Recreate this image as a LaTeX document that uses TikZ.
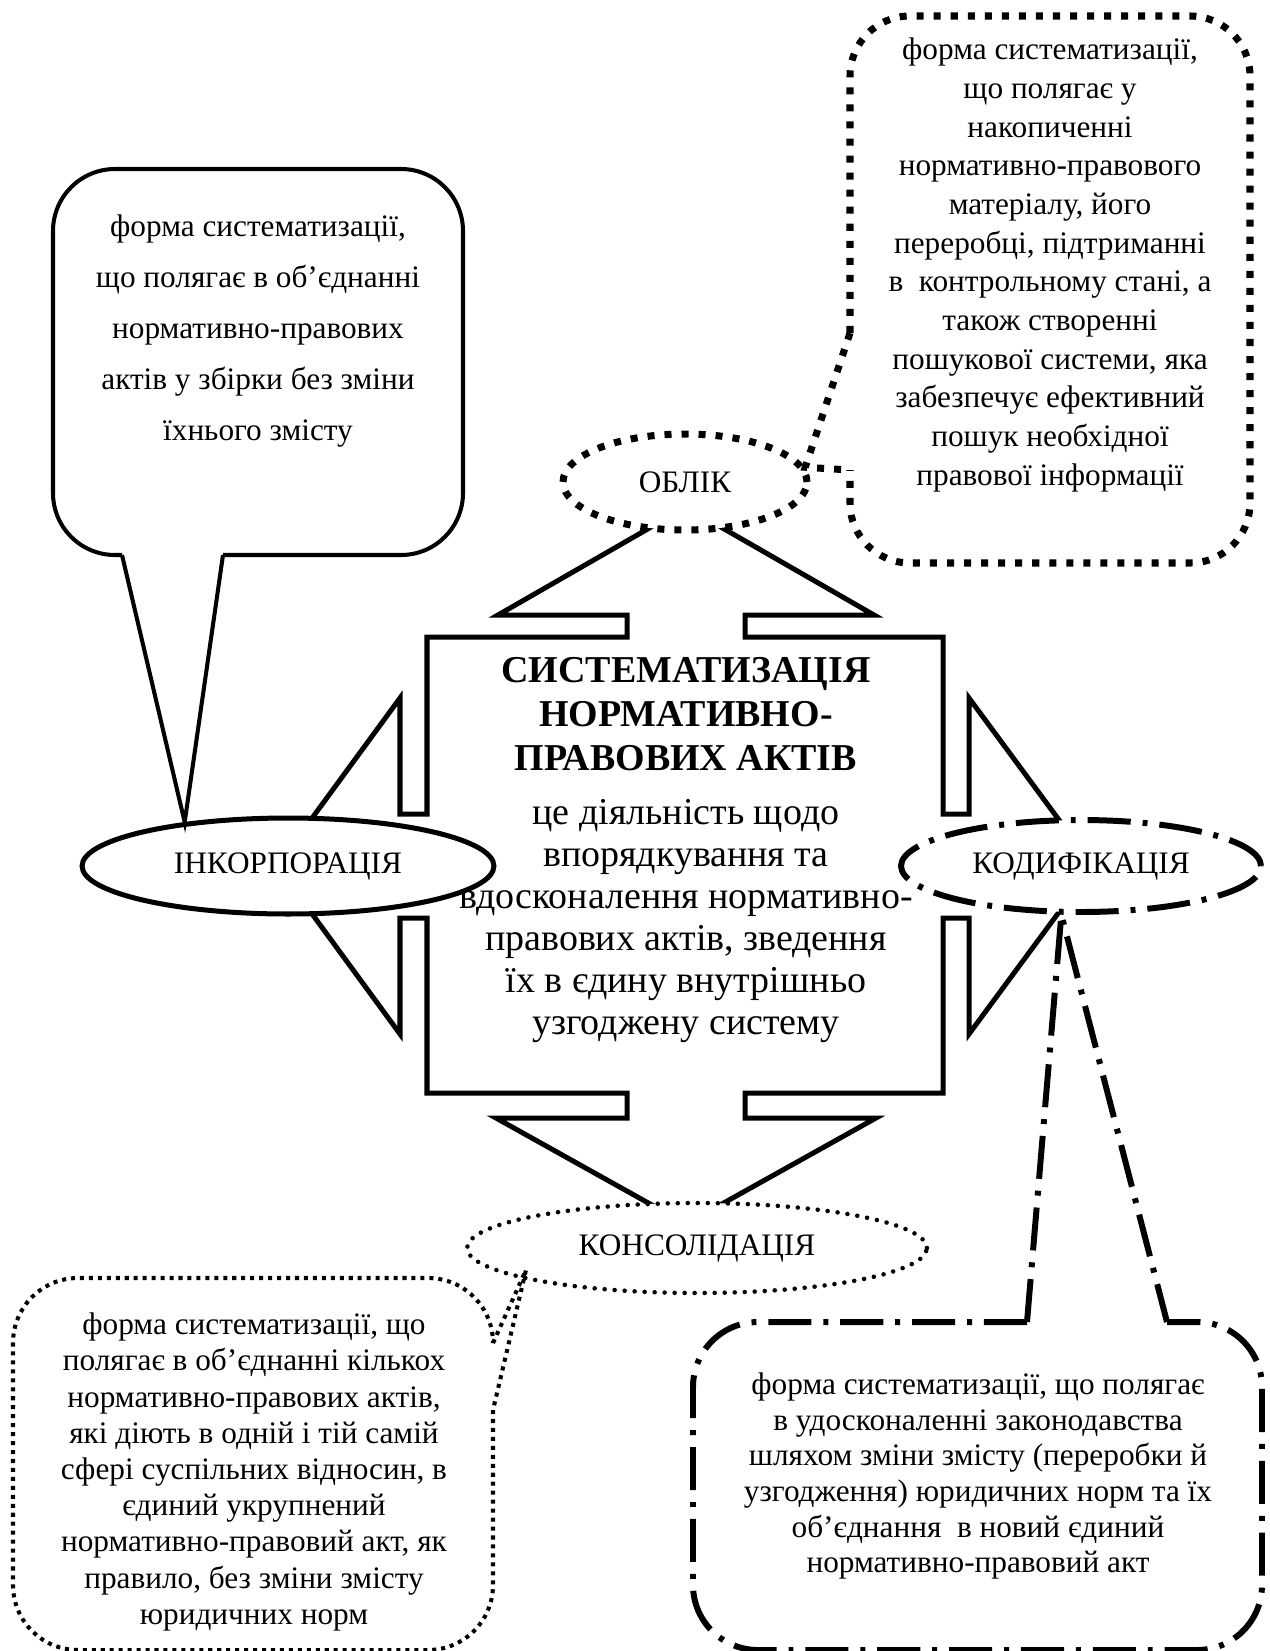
\documentclass[tikz,border=0pt]{standalone}
\usepackage{fontspec}
\setmainfont{Liberation Serif}
\usetikzlibrary{shapes.geometric}

\begin{document}
\begin{tikzpicture}[x=0.02cm,y=-0.02cm,line join=miter,
  txt/.style={align=center,font=\fontsize{17.8}{20.6}\selectfont},
  oval/.style={ellipse,draw,fill=white,inner sep=0pt,font=\fontsize{17.8}{20.6}\selectfont},
  arm/.style={draw,line width=2.85pt},
  outline/.style={line width=2.3pt},
  thickdots/.style={line width=4pt,dash pattern=on 4pt off 5.7pt},
  finedots/.style={line width=2.6pt,line cap=round,dash pattern=on 0pt off 5.7pt},
  boxdots/.style={line width=2.3pt,dash pattern=on 2.3pt off 2.8pt},
  dshdot/.style={line width=3.4pt,dash pattern=on 24.5pt off 6.8pt on 2.8pt off 6.8pt}]
\useasboundingbox (0,0) rectangle (1269,1651);
\draw[arm] (427,637)--(627,637)--(627,615)--(498,615)--(686,507)--(874,615)--(745,615)--(745,637)--(943,637)--(943,814)--(969,814)--(969,698)--(1093,866)--(969,1034)--(969,918)--(943,918)--(943,1093)--(745,1093)--(745,1118)--(876,1118)--(686,1224)--(496,1118)--(627,1118)--(627,1093)--(427,1093)--(427,918)--(400,918)--(400,1034)--(277,866)--(400,698)--(400,814)--(427,814)--cycle;
\node[oval,line width=2.85pt,minimum width=8.24cm,minimum height=1.92cm] (inc) at (288,866) {ІНКОРПОРАЦІЯ};
\node[oval,thickdots,minimum width=4.88cm,minimum height=1.92cm] (obl) at (685,482) {ОБЛІК};
\node[oval,dshdot,minimum width=7.2cm,minimum height=1.84cm] (kod) at (1081,866) {КОДИФІКАЦІЯ};
\node[oval,finedots,minimum width=9.2cm,minimum height=1.8cm] (kon) at (697,1248) {КОНСОЛІДАЦІЯ};
\draw[outline,rounded corners=1.24cm] (122,555)--(53,555)--(53,169)--(463,169)--(463,555)--(223,555);
\draw[outline] (122,555)--(inc.157)--(223,555);
\draw[thickdots,rounded corners=1.2cm] (850,333)--(850,16)--(1250,16)--(1250,563)--(850,563)--(850,470);
\draw[thickdots] (850,333)--(obl.7)--(850,470);
\coordinate (kontip) at (526,1270);
\draw[boxdots,rounded corners=1.3cm] (493,1410)--(493,1650)--(13,1650)--(13,1278)--(493,1278)--(493,1343);
\draw[boxdots] (493,1343)--(kontip)--(493,1410);
\draw[dshdot,rounded corners=1.3cm] (1027,1322)--(693,1322)--(693,1650)--(1262,1650)--(1262,1322)--(1167,1322);
\draw[dshdot] (1027,1322)--(kod.248)--(1167,1322);
\node[txt,font=\fontsize{17.8}{29}\selectfont] (tinc) at (258,331) {форма систематизації,\\що полягає в об’єднанні\\нормативно-правових\\актів у збірки без зміни\\їхнього змісту};
\node[txt,font=\fontsize{17.8}{22}\selectfont] (tobl) at (1050,265) {форма систематизації,\\що полягає у\\накопиченні\\нормативно-правового\\матеріалу, його\\переробці, підтриманні\\в\ \ контрольному стані, а\\також створенні\\пошукової системи, яка\\забезпечує ефективний\\пошук необхідної\\правової інформації};
\node[txt] (tkon) at (254,1472) {форма систематизації, що\\полягає в об’єднанні кількох\\нормативно-правових актів,\\які діють в одній і тій самій\\сфері суспільних відносин, в\\єдиний укрупнений\\нормативно-правовий акт, як\\правило, без зміни змісту\\юридичних норм};
\node[txt,font=\fontsize{17.8}{20.3}\selectfont] (tkod) at (978,1476) {форма систематизації, що полягає\\в удосконаленні законодавства\\шляхом зміни змісту (переробки й\\узгодження) юридичних норм та їх\\об’єднання\ \ в новий єдиний\\нормативно-правовий акт};
\node[align=center,font=\fontsize{21.6}{25}\selectfont\bfseries] (ttl) at (686,714) {СИСТЕМАТИЗАЦІЯ\\НОРМАТИВНО-\\ПРАВОВИХ АКТІВ};
\node[align=center,font=\fontsize{21.6}{24}\selectfont] (ctr) at (686,921) {це діяльність щодо\\впорядкування та\\вдосконалення нормативно-\\правових актів, зведення\\їх в єдину внутрішньо\\узгоджену систему};
\end{tikzpicture}
\end{document}
